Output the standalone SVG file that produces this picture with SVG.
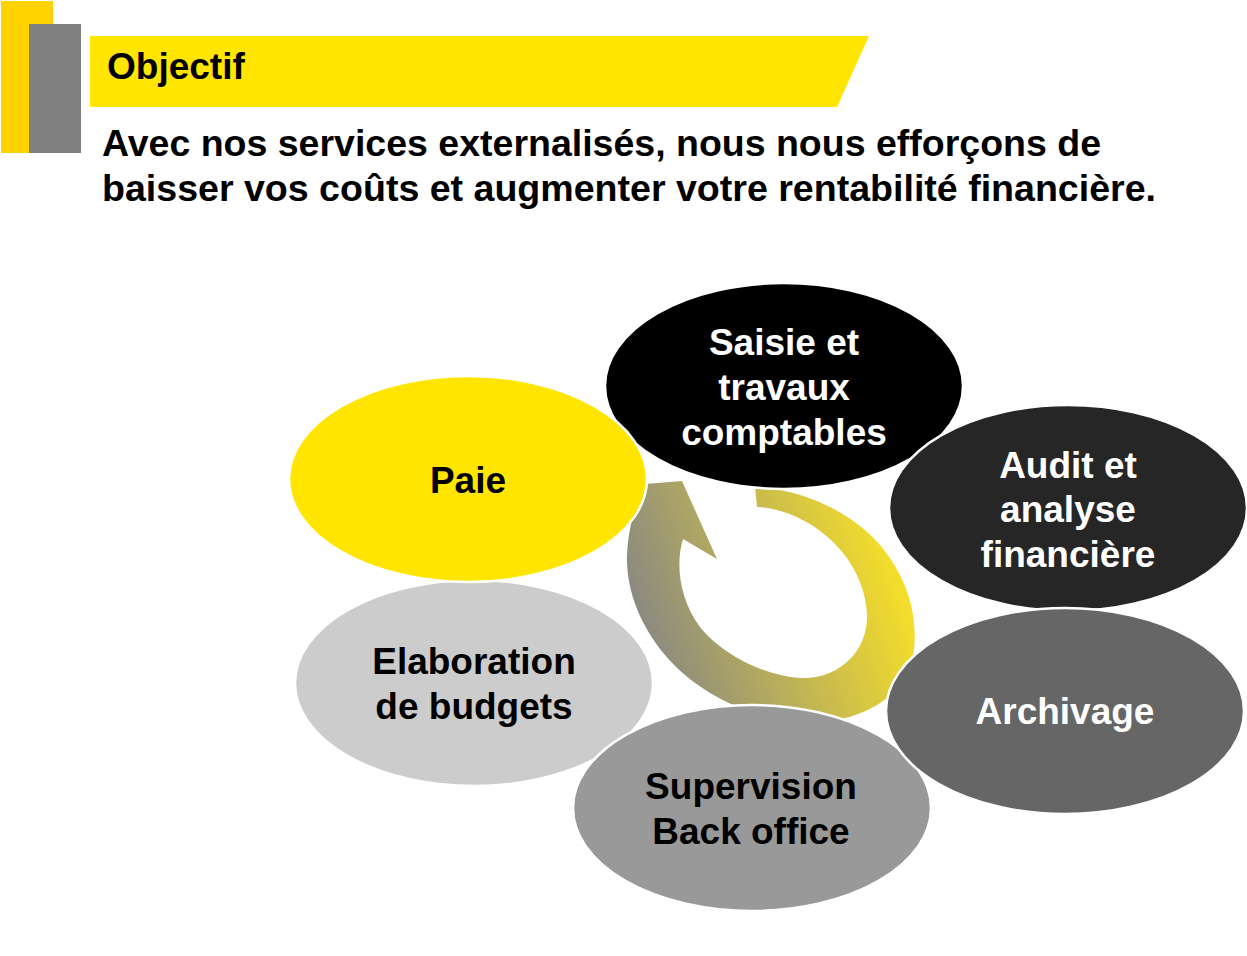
<svg xmlns="http://www.w3.org/2000/svg" width="1247" height="956" viewBox="0 0 1247 956">
<style>
.t{font-family:"Liberation Sans",Arial,sans-serif;font-weight:bold}
.n{font-family:"Liberation Sans",Arial,sans-serif;font-weight:bold;font-size:37px;text-anchor:middle}
.w{fill:#FFFFFF}
.k{fill:#000000}
.e{stroke:#FFFFFF;stroke-width:2.5}
</style>
<defs>
<linearGradient id="ag" gradientUnits="userSpaceOnUse" x1="635" y1="650" x2="910" y2="555">
<stop offset="0" stop-color="#858585"/>
<stop offset="1" stop-color="#FCE424"/>
</linearGradient>
</defs>
<rect width="1247" height="956" fill="#FFFFFF"/>
<g id="header">
<rect x="1" y="1" width="52" height="152" fill="#FFD200"/>
<rect x="29" y="24" width="52" height="129" fill="#808080"/>
<polygon points="90,36 869,36 837,107 90,107" fill="#FFE500"/>
<text class="t" x="107" y="79" font-size="37" fill="#000000">Objectif</text>
<text class="t" x="102" y="156" font-size="37.5" fill="#000000" textLength="999" lengthAdjust="spacingAndGlyphs">Avec nos services externalisés, nous nous efforçons de</text>
<text class="t" x="102" y="201" font-size="37.5" fill="#000000" textLength="1054" lengthAdjust="spacingAndGlyphs">baisser vos coûts et augmenter votre rentabilité financière.</text>
</g>
<g id="connectors">
<path d="M755,487 C800,489 850,510 880,545 C905,575 918,610 914,650 C910,690 870,722 810,722 C760,722 700,697 665,655 C640,625 626,590 627,555 C628,530 635,503 645,484 L682,481 L717,559 L683,539 C675,565 680,600 700,627 C720,652 760,675 800,678 C840,680 868,650 867,615 C866,585 850,555 825,535 C805,518 780,508 757,507 Z" fill="url(#ag)"/>
</g>
<g id="saisie">
<ellipse class="e" cx="784" cy="386" rx="179" ry="103" fill="#000000"/>
<text class="n w" x="784" y="355">Saisie et</text>
<text class="n w" x="784" y="400">travaux</text>
<text class="n w" x="784" y="445">comptables</text>
</g>
<g id="audit">
<ellipse class="e" cx="1068" cy="508" rx="179" ry="103" fill="#262626"/>
<text class="n w" x="1068" y="478">Audit et</text>
<text class="n w" x="1068" y="522">analyse</text>
<text class="n w" x="1068" y="567">financière</text>
</g>
<g id="elaboration">
<ellipse class="e" cx="474" cy="683" rx="179" ry="103" fill="#CCCCCC"/>
<text class="n k" x="474" y="674">Elaboration</text>
<text class="n k" x="474" y="719">de budgets</text>
</g>
<g id="supervision">
<ellipse class="e" cx="752" cy="808" rx="179" ry="103" fill="#999999"/>
<text class="n k" x="751" y="799">Supervision</text>
<text class="n k" x="751" y="844">Back office</text>
</g>
<g id="archivage">
<ellipse class="e" cx="1065" cy="711" rx="179" ry="103" fill="#666666"/>
<text class="n w" x="1065" y="724">Archivage</text>
</g>
<g id="paie">
<ellipse class="e" cx="468" cy="479" rx="179" ry="103" fill="#FFE500"/>
<text class="n k" x="468" y="493">Paie</text>
</g>
</svg>
